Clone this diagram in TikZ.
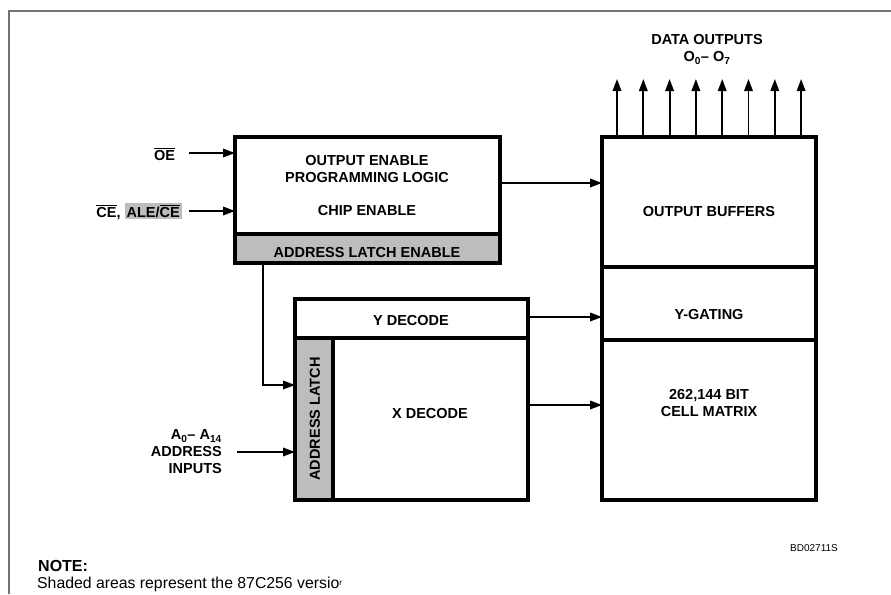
\documentclass[tikz,border=0pt]{standalone}
\usepackage{fontspec}
\setmainfont{Liberation Sans}
\usetikzlibrary{arrows.meta}
\definecolor{shade}{gray}{0.74}
\definecolor{framec}{gray}{0.45}
\newcommand\ovl[1]{$\overline{\mbox{#1}}$}
\begin{document}
\begin{tikzpicture}[x=1pt,y=-1pt,
  blk/.style={draw,line width=3.4pt,inner sep=0pt,outer sep=0pt},
  lbl/.style={font=\bfseries\fontsize{14.5}{17}\selectfont,inner sep=0pt,align=center},
  arr/.style={line width=1.8pt,line join=miter,-{Triangle[length=12pt,width=8.5pt]}},
  frameline/.style={draw=framec,line width=1.4pt}]
\useasboundingbox (0,0) rectangle (891,594);
\fill[white] (0,0) rectangle (891,594);
% frame
\coordinate (fbl) at (9,594);
\coordinate (ftl) at (9,11);
\coordinate (ftr) at (891,11);
\draw[frameline] (fbl) -- (ftl) -- (ftr);
% blocks
\node[blk,minimum width=265pt,minimum height=97pt] (ctl) at (367.5,185.5) {};
\node[blk,fill=shade,minimum width=265pt,minimum height=29pt] (ale) at (367.5,248.5) {};
\node[blk,minimum width=233pt,minimum height=39pt] (ydec) at (411.5,318.5) {};
\node[blk,fill=shade,minimum width=38pt,minimum height=162pt] (latch) at (314,419) {};
\node[blk,minimum width=195pt,minimum height=162pt] (xdec) at (430.5,419) {};
\node[blk,minimum width=214pt,minimum height=130pt] (obuf) at (709,202) {};
\node[blk,minimum width=214pt,minimum height=73pt] (ygate) at (709,303.5) {};
\node[blk,minimum width=214pt,minimum height=160pt] (cell) at (709,420) {};
% block texts
\node[lbl] (tctl) at (367,186) {OUTPUT ENABLE\\PROGRAMMING LOGIC\\[16pt]CHIP ENABLE};
\node[lbl] (tale) at (367,253) {ADDRESS LATCH ENABLE};
\node[lbl] (tydec) at (411,321) {Y DECODE};
\node[lbl] (txdec) at (430,414) {X DECODE};
\node[lbl,rotate=90] (tlatch) at (315,419) {ADDRESS LATCH};
\node[lbl] (tobuf) at (709,212) {OUTPUT BUFFERS};
\node[lbl] (tygate) at (709,315) {Y-GATING};
\node[lbl] (tcell) at (709,403.5) {262,144 BIT\\CELL MATRIX};
% outside labels
\node[lbl,anchor=base] (oe) at (164.5,160) {\ovl{OE}};
\node[lbl,anchor=base east] (ce) at (182,217) {\ovl{CE}, {\setlength{\fboxsep}{2pt}\colorbox{shade}{ALE/\ovl{CE}}}};
\node[lbl,anchor=east,align=right] (ain) at (222,452) {A\textsubscript{0}-- A\textsubscript{14}\\ADDRESS\\INPUTS};
\node[lbl] (dout) at (707,40) {DATA OUTPUTS};
\node[lbl] (dsub) at (707,58) {O\textsubscript{0}-- O\textsubscript{7}};
% connectors
\coordinate (oes) at (189,153);
\draw[arr] (oes) -- (oes -| ctl.west);
\coordinate (ces) at (189,211);
\draw[arr] (ces) -- (ces -| ctl.west);
\coordinate (aleb) at (263,385);
\draw[arr] (ale.south -| aleb) |- (aleb -| latch.west);
\coordinate (ads) at (237,452);
\draw[arr] (ads) -- (ads -| latch.west);
\draw[arr] ([yshift=2.5pt]ctl.east) -- ([yshift=2.5pt]ctl.east -| obuf.west);
\draw[arr] ([yshift=1.5pt]ydec.east) -- ([yshift=1.5pt]ydec.east -| ygate.west);
\draw[arr] ([yshift=14pt]xdec.east) -- ([yshift=14pt]xdec.east -| cell.west);
\foreach \i in {0,...,7}
  \draw[arr] ([xshift=15pt+26.3pt*\i]obuf.north west) -- ++(0,-58);
% notes
\node[font=\fontsize{10}{12}\selectfont,inner sep=0pt] (bd) at (814,548) {BD02711S};
\node[font=\bfseries\fontsize{16}{18}\selectfont,anchor=west,inner sep=0pt] (note) at (38,566) {NOTE:};
\node[font=\fontsize{15.8}{18}\selectfont,anchor=west,inner sep=0pt] (shd) at (37,584) {Shaded areas represent the 87C256 versio\raisebox{3pt}{\fontsize{8}{8}\selectfont r}};
\end{tikzpicture}
\end{document}
